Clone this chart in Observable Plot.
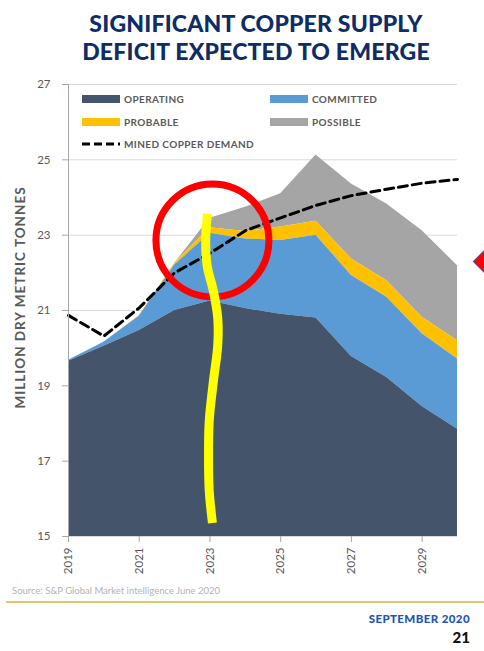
<!DOCTYPE html>
<html>
<head>
<meta charset="utf-8">
<script src="https://cdn.jsdelivr.net/npm/d3@7"></script>
<script src="https://cdn.jsdelivr.net/npm/@observablehq/plot@0.6"></script>
<style>
  html, body { margin: 0; padding: 0; background: #fff; }
  #page { position: relative; width: 484px; height: 651px; overflow: hidden; font-family: Lato, "Open Sans", sans-serif; }
  #title { position: absolute; left: 14px; width: 484px; top: 9px; text-align: center; font-size: 23px; line-height: 28px; font-weight: 900; color: #0e2c66; letter-spacing: 0.2px; }
  #chart { position: absolute; left: 0; top: 70px; }
  #chart .ylabel text { letter-spacing: 1px; }
  .legend-item { position: absolute; display: flex; align-items: center; height: 12px; font-size: 10px; font-weight: 700; color: #595959; letter-spacing: 0.4px; white-space: nowrap; }
  .legend-item .sw { width: 38px; height: 8px; margin-right: 4px; }
  .legend-item svg { margin-right: 4px; }
  #source { position: absolute; left: 12px; top: 585px; font-size: 9.5px; color: #b3b3b3; }
  #rule { position: absolute; left: 6px; right: 0; top: 601px; height: 1.5px; background: #d8cc6a; }
  #month { position: absolute; right: 14px; top: 612px; font-size: 11.5px; font-weight: 900; color: #1c55b0; letter-spacing: 0.4px; }
  #page-no { position: absolute; right: 14px; top: 628px; font-size: 15px; font-weight: 900; color: #111; }
</style>
</head>
<body>
<div id="page">
  <div id="title">SIGNIFICANT COPPER SUPPLY<br>DEFICIT EXPECTED TO EMERGE</div>
  <div id="chart"></div>
  <div id="legend"></div>
  <div id="source">Source: S&amp;P Global Market intelligence June 2020</div>
  <div id="rule"></div>
  <div id="month">SEPTEMBER 2020</div>
  <div id="page-no">21</div>
</div>
<script>
// Years of the forecast
const years = [2019, 2020, 2021, 2022, 2023, 2024, 2025, 2026, 2027, 2028, 2029, 2030];

// Cumulative mine supply (million dry metric tonnes): each series is the top of its layer
const operating = [19.65, 20.05, 20.47, 21.0, 21.25, 21.05, 20.9, 20.8, 19.78, 19.22, 18.45, 17.85];
const committed = [19.68, 20.16, 20.85, 22.2, 23.05, 22.9, 22.86, 23.0, 21.93, 21.35, 20.38, 19.71];
const probable  = [19.68, 20.16, 20.86, 22.25, 23.2, 23.1, 23.22, 23.37, 22.37, 21.79, 20.82, 20.2];
const possible  = [19.68, 20.16, 20.86, 22.25, 23.45, 23.74, 24.1, 25.13, 24.36, 23.83, 23.12, 22.19];

// Mined copper demand
const demand = [20.87, 20.32, 21.07, 22.0, 22.52, 23.12, 23.46, 23.79, 24.05, 24.22, 24.38, 24.48];

// Axis ticks
const yTicks = [15, 17, 19, 21, 23, 25, 27];
const xTicks = [2019, 2021, 2023, 2025, 2027, 2029];
const yDomain = [15, 27];

// Legend entries
const legendEntries = [
  {label: "OPERATING", color: "#44546a"},
  {label: "COMMITTED", color: "#5b9bd5"},
  {label: "PROBABLE", color: "#ffc000"},
  {label: "POSSIBLE", color: "#a5a5a5"},
  {label: "MINED COPPER DEMAND", color: "#000", dashed: true}
];

// Hand-drawn highlight around 2023 (circle centre and freehand stroke, in data units)
const highlight = [{year: 2023.07, value: 22.86}];
const strokeYears  = [2022.93, 2022.88, 2022.92, 2023.10, 2023.22, 2023.22, 2023.10, 2022.98, 2022.96, 2022.98, 2023.07];
const strokeValues = [23.57, 22.9, 22.2, 21.5, 20.8, 20.07, 19.14, 18.07, 17.01, 16.21, 15.36];
const pointer = [{year: 2030.82, value: 22.3}];

const rows = years.map((year, i) => ({
  year,
  operating: operating[i],
  committed: committed[i],
  probable: probable[i],
  possible: possible[i],
  demand: demand[i]
}));
const strokePts = strokeYears.map((year, i) => ({year, value: strokeValues[i]}));
const floor = yDomain[0];

const chart = Plot.plot({
  width: 484,
  height: 515,
  marginLeft: 68,
  marginRight: 27,
  marginTop: 14,
  marginBottom: 49,
  x: {domain: [years[0], years[years.length - 1]]},
  y: {domain: yDomain},
  style: {fontFamily: "Lato, 'Open Sans', sans-serif", fontSize: "11.5px", color: "#595959", background: "transparent", overflow: "visible"},
  marks: [
    Plot.gridY(yTicks, {stroke: "#d9d9d9", strokeOpacity: 1}),
    Plot.areaY(rows, {x: "year", y1: "probable", y2: "possible", fill: legendEntries[3].color}),
    Plot.areaY(rows, {x: "year", y1: "committed", y2: "probable", fill: legendEntries[2].color}),
    Plot.areaY(rows, {x: "year", y1: "operating", y2: "committed", fill: legendEntries[1].color}),
    Plot.areaY(rows, {x: "year", y1: floor, y2: "operating", fill: legendEntries[0].color}),
    Plot.line(rows, {x: "year", y: "demand", stroke: "#000", strokeWidth: 3, strokeDasharray: "9,5"}),
    Plot.ruleX([years[0]], {stroke: "#a6a6a6"}),
    Plot.axisY(yTicks, {tickSize: 6, tickPadding: 12, stroke: "#a6a6a6", label: null}),
    Plot.axisX(xTicks, {tickSize: 6, tickPadding: 5, tickRotate: -90, stroke: "#a6a6a6", tickFormat: d => String(d), label: null}),
    Plot.text(["MILLION DRY METRIC TONNES"], {frameAnchor: "left", textAnchor: "middle", dx: -48, dy: -13, rotate: -90, fontWeight: 700, fontSize: 13.5, fill: "#595959", className: "ylabel"}),
    Plot.dot(highlight, {x: "year", y: "value", r: 56.5, stroke: "#ff0000", strokeWidth: 7, fill: "none"}),
    Plot.line(strokePts, {x: "year", y: "value", stroke: "#ffff00", strokeWidth: 9, curve: "catmull-rom", strokeLinecap: "butt"}),
    Plot.dot(pointer, {x: "year", y: "value", symbol: "diamond2", r: 12, fill: "#ff0000", stroke: "#3a3f8f", strokeWidth: 1})
  ]
});
document.getElementById("chart").appendChild(chart);

// Legend drawn inside the top-left corner of the plot area
const legend = document.getElementById("legend");
const legendPos = [
  {left: 82, top: 93}, {left: 270, top: 93},
  {left: 82, top: 116}, {left: 270, top: 116},
  {left: 82, top: 138}
];
legendEntries.forEach((e, i) => {
  const item = document.createElement("div");
  item.className = "legend-item";
  item.style.left = legendPos[i].left + "px";
  item.style.top = legendPos[i].top + "px";
  if (e.dashed) {
    item.innerHTML = `<svg width="38" height="6"><line x1="0" y1="3" x2="38" y2="3" stroke="${e.color}" stroke-width="3" stroke-dasharray="8,4"/></svg>`;
  } else {
    item.innerHTML = `<div class="sw" style="background:${e.color}"></div>`;
  }
  item.appendChild(document.createTextNode(e.label));
  legend.appendChild(item);
});
</script>
</body>
</html>
